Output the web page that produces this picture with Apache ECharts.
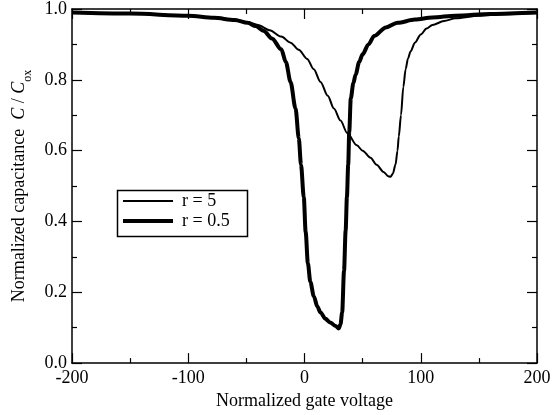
<!DOCTYPE html>
<html>
<head>
<meta charset="utf-8">
<script src="https://cdn.jsdelivr.net/npm/echarts@6/dist/echarts.min.js"></script>
<style>html,body{margin:0;padding:0;background:#fff;}#c{width:557px;height:415px;}</style>
</head>
<body>
<div id="c"></div>
<script>
// r = 0.5 (thick)
var xThick = [-200,-150,-100,-78,-60,-49,-42,-35,-28,-20,-16,-12,-7.7,-4.9,-3,-0.6,1,2.9,5,8,11,13.8,18,22,26.7,29.5,31,32.4,34,35.4,36.5,37.6,38.5,39.8,42,44,47,50,55,60,70,80,95,110,130,160,200];
var yThick = [0.99,0.987,0.981,0.975,0.969,0.961,0.952,0.938,0.917,0.886,0.85,0.794,0.719,0.635,0.56,0.468,0.37,0.282,0.23,0.189,0.16,0.143,0.125,0.115,0.105,0.098,0.11,0.143,0.26,0.375,0.47,0.561,0.654,0.747,0.79,0.815,0.85,0.872,0.9,0.924,0.948,0.961,0.97,0.976,0.981,0.986,0.99];
// r = 5 (thin)
var xThin = [-200,-150,-100,-78,-60,-49,-40,-30,-20,-12,-5,2.3,8,13.8,20,25.3,31,36.7,45,50,56.8,62,68,72,74,76,78.3,80,81.1,83,85,87,89,91.2,95,100,105,110,120,130,150,170,200];
var yThin = [0.99,0.988,0.981,0.976,0.97,0.963,0.955,0.94,0.922,0.905,0.885,0.859,0.83,0.794,0.755,0.719,0.685,0.65,0.615,0.6,0.58,0.56,0.54,0.528,0.526,0.535,0.561,0.6,0.64,0.7,0.78,0.83,0.86,0.88,0.905,0.928,0.945,0.955,0.966,0.974,0.981,0.985,0.989];
var xTicks = [-200,-100,0,100,200];
var yTicks = [0,0.2,0.4,0.6,0.8,1.0];
var seriesNames = ['r = 5','r = 0.5'];

function pairs(xs, ys){ return xs.map(function(x,i){return [x, ys[i]];}); }

var font = 'Liberation Serif';
var chart = echarts.init(document.getElementById('c'));
function axisCommon(){
  return {
    axisLine:{onZero:false,lineStyle:{color:'#000',width:1.5}},
    splitLine:{show:false},
    axisTick:{inside:true,length:10,lineStyle:{color:'#000',width:1.2}},
    minorTick:{show:true,splitNumber:2,length:5,lineStyle:{color:'#000',width:1.2}},
    minorSplitLine:{show:false}
  };
}
function legendFor(name, top, h){
  return {
    data:[name], left:123, top:top, padding:0,
    itemWidth:50, itemHeight:h, icon:'rect',
    itemStyle:{color:'#000'},
    textStyle:{fontFamily:font,fontSize:18,color:'#000',padding:[0,0,0,4]},
    selectedMode:false
  };
}
chart.setOption({
  animation:false,
  backgroundColor:'#fff',
  grid:{left:72,right:20,top:9,bottom:47},
  legend:[legendFor(seriesNames[0],192,2), legendFor(seriesNames[1],212,4)],
  graphic:[{type:'rect',left:115,top:188,shape:{width:130,height:46},
    style:{fill:null,stroke:'#000',lineWidth:1.5},z:100}],
  xAxis:[
    Object.assign(axisCommon(),{type:'value',min:-200,max:200,interval:100,position:'bottom',
      axisLabel:{fontFamily:font,fontSize:18,color:'#000',margin:6,
        formatter:function(v){return xTicks.indexOf(v)>=0?String(v):'';}},
      name:'Normalized gate voltage',nameLocation:'middle',nameGap:28,
      nameTextStyle:{fontFamily:font,fontSize:18,color:'#000'}}),
    Object.assign(axisCommon(),{type:'value',min:-200,max:200,interval:100,position:'top',
      axisLabel:{show:false}})
  ],
  yAxis:[
    Object.assign(axisCommon(),{type:'value',min:0,max:1,interval:0.2,position:'left',
      axisLabel:{fontFamily:font,fontSize:18,color:'#000',margin:5,
        formatter:function(v){return v.toFixed(1);}},
      name:'{a|Normalized capacitance  }{i|C}{a| / }{i|C}{s|ox}',
      nameLocation:'middle',nameGap:42,nameRotate:90,
      nameTextStyle:{rich:{
        a:{fontFamily:font,fontSize:18,color:'#000',lineHeight:22,verticalAlign:'bottom'},
        i:{fontFamily:font,fontSize:18,color:'#000',fontStyle:'italic',lineHeight:22,verticalAlign:'bottom'},
        s:{fontFamily:font,fontSize:12,color:'#000',lineHeight:22,verticalAlign:'bottom',padding:[0,0,-5,0]}
      }}}),
    Object.assign(axisCommon(),{type:'value',min:0,max:1,interval:0.2,position:'right',
      axisLabel:{show:false}})
  ],
  series:[
    {name:seriesNames[0],type:'line',data:pairs(xThin,yThin),showSymbol:false,symbol:'none',smooth:0.3,smoothMonotone:'x',
      lineStyle:{color:'#000',width:2},itemStyle:{color:'#000'}},
    {name:seriesNames[1],type:'line',data:pairs(xThick,yThick),showSymbol:false,symbol:'none',smooth:0.3,smoothMonotone:'x',
      lineStyle:{color:'#000',width:4},itemStyle:{color:'#000'}}
  ]
});
</script>
</body>
</html>
